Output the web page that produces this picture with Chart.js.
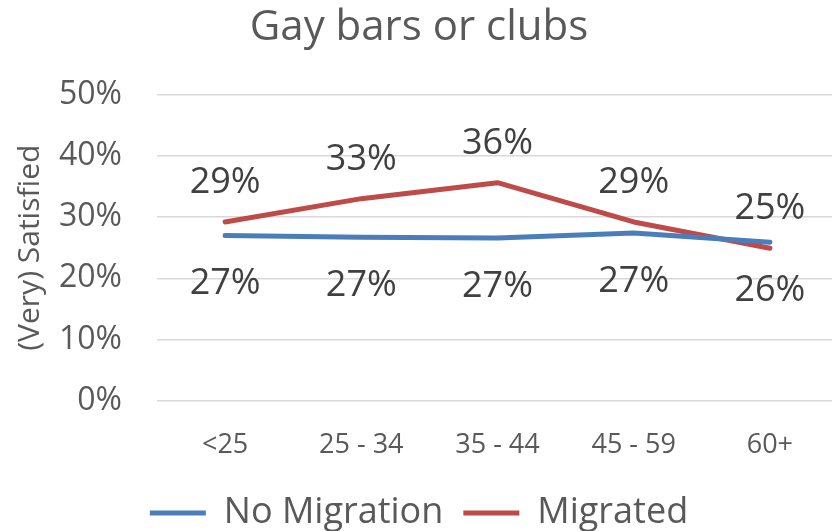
<!DOCTYPE html>
<html>
<head>
<meta charset="utf-8">
<script src="https://cdn.jsdelivr.net/npm/chart.js@4/dist/chart.umd.min.js"></script>
<style>
  html, body { margin: 0; padding: 0; background: #fff; overflow: hidden; }
  #wrap { position: relative; width: 840px; height: 541px; }
</style>
</head>
<body>
<div id="wrap"><canvas id="myChart"></canvas></div>
<script>
// data
const ageGroups = ['<25', '25 - 34', '35 - 44', '45 - 59', '60+'];
const noMigration = [0.270, 0.267, 0.266, 0.274, 0.259];
const migrated = [0.292, 0.330, 0.356, 0.292, 0.249];
const yTicks = [0, 0.1, 0.2, 0.3, 0.4, 0.5];

const FONT = "'Open Sans', sans-serif";
const grey = '#595959';
const blue = '#4a7ebb';
const red = '#be4b48';

// value labels: Migrated above the line, No Migration below
const valueLabels = {
  id: 'valueLabels',
  afterDatasetsDraw(chart) {
    const ctx = chart.ctx;
    ctx.save();
    ctx.font = '36px ' + FONT;
    ctx.fillStyle = '#404040';
    ctx.textAlign = 'center';
    ctx.textBaseline = 'alphabetic';
    chart.data.datasets.forEach((ds, i) => {
      const meta = chart.getDatasetMeta(i);
      const shift = ds.label == 'Migrated' ? -29 : 59;
      meta.data.forEach((pt, j) => {
        ctx.fillText(Math.round(ds.data[j] * 100) + '%', pt.x, pt.y + shift);
      });
    });
    ctx.restore();
  }
};

const config = {
  type: 'line',
  data: {
    labels: ageGroups,
    datasets: [{
      label: 'No Migration',
      data: noMigration,
      borderColor: blue,
      backgroundColor: blue,
      borderWidth: 5,
      pointRadius: 0,
      borderCapStyle: 'round',
      borderJoinStyle: 'round'
    },
    {
      label: 'Migrated',
      data: migrated,
      borderColor: red,
      backgroundColor: red,
      borderWidth: 5,
      pointRadius: 0,
      borderCapStyle: 'round',
      borderJoinStyle: 'round'
    }]
  },
  options: {
    responsive: true,
    maintainAspectRatio: false,
    animation: false,
    layout: { padding: { left: 0, right: 2, top: 0, bottom: 0 } },
    scales: {
      x: {
        offset: true,
        grid: { display: false },
        border: { display: false },
        ticks: {
          color: grey,
          font: { family: FONT, size: 27 },
          padding: 20,
          maxRotation: 0
        },
        afterFit: s => { s.height = 74; }
      },
      y: {
        min: 0,
        max: 0.5,
        afterBuildTicks: s => { s.ticks = yTicks.map(v => ({ value: v })); },
        grid: { color: '#d9d9d9', lineWidth: 1.5, drawTicks: false },
        border: { display: false },
        ticks: {
          color: grey,
          font: { family: FONT, size: 32 },
          padding: 35,
          callback: v => Math.round(v * 100) + '%'
        },
        title: {
          display: true,
          text: '(Very) Satisfied',
          color: grey,
          font: { family: FONT, size: 30 },
          padding: { top: 12, bottom: 0 }
        },
        afterFit: s => { s.width = 157; }
      }
    },
    plugins: {
      title: {
        display: true,
        text: 'Gay bars or clubs',
        color: grey,
        font: { family: FONT, size: 42, weight: 'normal' },
        padding: { top: 3, bottom: 41 }
      },
      legend: {
        position: 'bottom',
        labels: {
          color: grey,
          font: { family: FONT, size: 36 },
          boxWidth: 56,
          boxHeight: 5,
          padding: 20,
          generateLabels: chart => Chart.defaults.plugins.legend.labels.generateLabels(chart)
            .map(item => ({ ...item, lineWidth: 0 }))
        }
      },
      tooltip: { enabled: false }
    }
  },
  plugins: [valueLabels]
};

function start() {
  var ctx = document.getElementById('myChart').getContext('2d');
  new Chart(ctx, config);
}

window.onload = start;
</script>
</body>
</html>
